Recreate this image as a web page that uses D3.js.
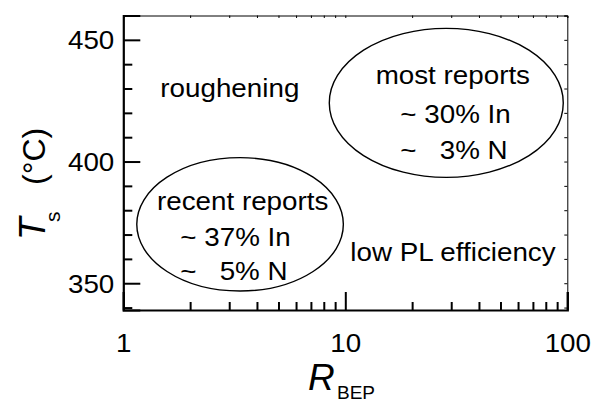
<!DOCTYPE html>
<html>
<head>
<meta charset="utf-8">
<script src="https://cdn.jsdelivr.net/npm/d3@7"></script>
<style>
  html, body { margin: 0; padding: 0; background: #fff; }
  svg { display: block; }
  text { font-family: "Liberation Sans", Arial, Helvetica, sans-serif; fill: #000; white-space: pre; }
</style>
</head>
<body>
<svg id="chart" width="592" height="403"></svg>
<script>
// ---- data ----
const xDomain = [1, 100];          // R_BEP (log scale)
const yDomain = [339, 460];        // Ts (°C)
const xMajorTicks = [1, 10, 100];
const xTickLabels = ["1", "10", "100"];
const yMajorTicks = [350, 400, 450];
const yTickLabels = ["350", "400", "450"];
const yMinorTicks = [340, 360, 370, 380, 390, 410, 420, 430, 440, 460];

// ellipse regions (data-space bounds)
const regionNames = ["most reports", "recent reports"];
const regionRmin = [8.47, 1.15];
const regionRmax = [95.9, 9.8];
const regionTmin = [393.5, 346.8];
const regionTmax = [454.7, 401.6];

// annotations (text, data-space anchor)
const noteTexts = ["roughening", "most reports", "~ 30% In", "~   3% N",
                   "recent reports", "~ 37% In", "~   5% N", "low PL efficiency"];
const noteR = [1.468, 30.5, 17.7, 17.7, 3.45, 1.806, 1.806, 10.53];
const noteT = [426.5, 432.0, 415.8, 401.2, 380.0, 365.2, 351.2, 359.0];
const noteAnchor = ["start", "middle", "start", "start", "middle", "start", "start", "start"];

// ---- layout ----
const L = 123.3, R = 567.3, T = 15.5, B = 310;
const FS = 25.5, SX = 1.09;

const svg = d3.select("#chart");
const x = d3.scaleLog().domain(xDomain).range([L, R]);
const y = d3.scaleLinear().domain(yDomain).range([B, T]);

const xMinor = x.ticks().filter(v => !xMajorTicks.includes(v));

// top & right thin frame with small ticks
svg.append("g").attr("transform", `translate(0,${T})`)
  .call(d3.axisTop(x).tickValues(x.ticks()).tickSize(-2.5).tickFormat(""))
  .call(g => g.select(".domain").attr("stroke-width", 1))
  .call(g => g.selectAll(".tick line").attr("stroke-width", 1));
svg.append("g").attr("transform", `translate(${R},0)`)
  .call(d3.axisRight(y).tickValues(d3.range(340, 461, 10)).tickSize(-3).tickFormat(""))
  .call(g => g.select(".domain").attr("stroke-width", 1))
  .call(g => g.selectAll(".tick line").attr("stroke-width", 1));

// bottom axis
const gxMinor = svg.append("g").attr("transform", `translate(0,${B})`)
  .call(d3.axisBottom(x).tickValues(xMinor).tickSize(-8).tickFormat(""));
gxMinor.select(".domain").remove();
gxMinor.selectAll(".tick line").attr("stroke-width", 2);

const gx = svg.append("g").attr("transform", `translate(0,${B})`)
  .call(d3.axisBottom(x).tickValues(xMajorTicks).tickSize(-18).tickPadding(23.6)
        .tickFormat((d, i) => xTickLabels[i]));
gx.select(".domain").attr("stroke-width", 2.2);
gx.selectAll(".tick line").attr("stroke-width", 2);
gx.selectAll(".tick text").attr("font-size", FS)
  .each(function() {
    const t = d3.select(this);
    const yy = +t.attr("y");
    t.attr("y", 0).attr("transform", `translate(0,${yy}) scale(${SX},1)`);
  });

// left axis
const gyMinor = svg.append("g").attr("transform", `translate(${L},0)`)
  .call(d3.axisLeft(y).tickValues(yMinorTicks).tickSize(-9).tickFormat(""));
gyMinor.select(".domain").remove();
gyMinor.selectAll(".tick line").attr("stroke-width", 2);

const gy = svg.append("g").attr("transform", `translate(${L},0)`)
  .call(d3.axisLeft(y).tickValues(yMajorTicks).tickSize(-17).tickPadding(9)
        .tickFormat((d, i) => yTickLabels[i]));
gy.select(".domain").attr("stroke-width", 2.2);
gy.selectAll(".tick line").attr("stroke-width", 2);
gy.selectAll(".tick text").attr("font-size", FS).attr("dy", "0.35em")
  .each(function() {
    const t = d3.select(this);
    const xx = +t.attr("x");
    t.attr("x", 0).attr("transform", `translate(${xx},0) scale(${SX},1)`);
  });

svg.selectAll(".domain, .tick line").attr("stroke", "#000");
svg.selectAll(".tick text").attr("font-family", null).attr("fill", "#000");

// ellipses
svg.append("g").selectAll("ellipse").data(regionNames).join("ellipse")
  .attr("cx", (d, i) => (x(regionRmin[i]) + x(regionRmax[i])) / 2)
  .attr("cy", (d, i) => (y(regionTmin[i]) + y(regionTmax[i])) / 2)
  .attr("rx", (d, i) => (x(regionRmax[i]) - x(regionRmin[i])) / 2)
  .attr("ry", (d, i) => (y(regionTmin[i]) - y(regionTmax[i])) / 2)
  .attr("fill", "none").attr("stroke", "#000").attr("stroke-width", 1.4);

// annotations
svg.append("g").selectAll("text").data(noteTexts).join("text")
  .attr("transform", (d, i) => `translate(${x(noteR[i])},${y(noteT[i])}) scale(${SX},1)`)
  .attr("text-anchor", (d, i) => noteAnchor[i])
  .attr("font-size", FS)
  .text(d => d);

// y axis title
const yt = svg.append("text").attr("transform", "translate(45,240) rotate(-90)");
yt.append("tspan").attr("x", 0).attr("y", 0).attr("font-size", 37).attr("font-style", "italic").text("T");
yt.append("tspan").attr("x", 18).attr("y", 15).attr("font-size", 21).text("s");
yt.append("tspan").attr("x", 55).attr("y", 0).attr("font-size", 32).text("(°C)");

// x axis title
const xt = svg.append("text").attr("transform", "translate(308,390)");
xt.append("tspan").attr("x", 0).attr("y", 0).attr("font-size", 37).attr("font-style", "italic").text("R");
xt.append("tspan").attr("x", 29).attr("y", 8.5).attr("font-size", 19).text("BEP");
</script>
</body>
</html>
